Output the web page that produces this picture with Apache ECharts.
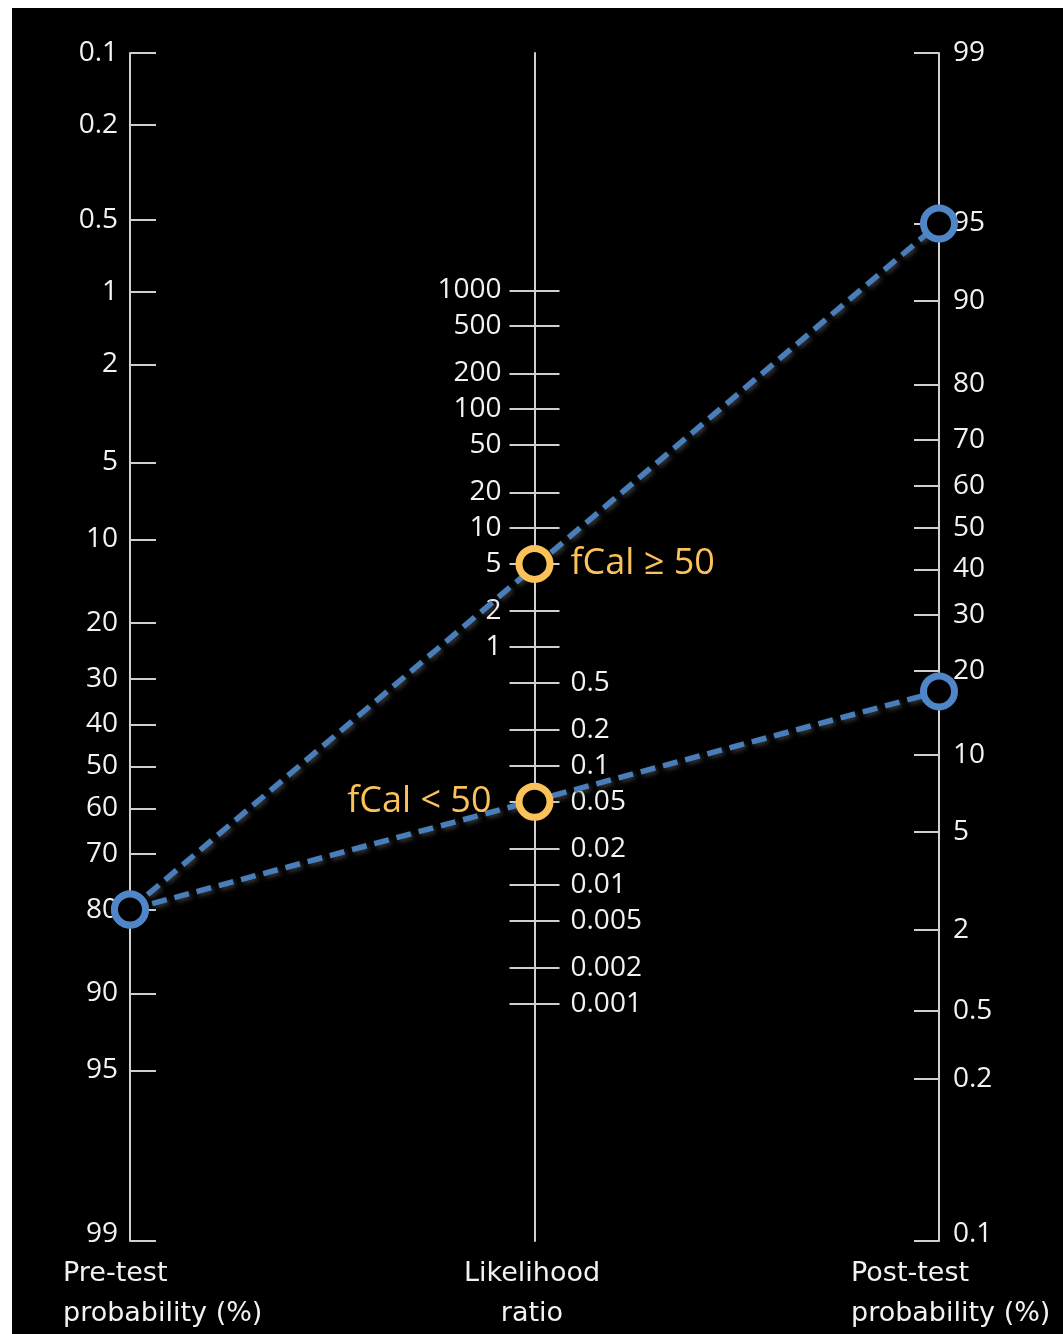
<!DOCTYPE html>
<html>
<head>
<meta charset="utf-8">
<script src="https://cdn.jsdelivr.net/npm/echarts@6/dist/echarts.min.js"></script>
<style>
html,body{margin:0;padding:0;background:#fff;width:1063px;height:1334px;overflow:hidden}
#chart{position:absolute;left:12px;top:8px;width:1051px;height:1326px;background:#000}
</style>
</head>
<body>
<div id="chart"></div>
<script>
// ---- data ----
const preTicks = [0.1, 0.2, 0.5, 1, 2, 5, 10, 20, 30, 40, 50, 60, 70, 80, 90, 95, 99];
const preTickLabels = ['0.1', '0.2', '0.5', '1', '2', '5', '10', '20', '30', '40', '50', '60', '70', '80', '90', '95', '99'];

const lrTicks = [1000, 500, 200, 100, 50, 20, 10, 5, 2, 1, 0.5, 0.2, 0.1, 0.05, 0.02, 0.01, 0.005, 0.002, 0.001];
const lrTickLabels = ['1000', '500', '200', '100', '50', '20', '10', '5', '2', '1', '0.5', '0.2', '0.1', '0.05', '0.02', '0.01', '0.005', '0.002', '0.001'];

const postTicks = [99, 95, 90, 80, 70, 60, 50, 40, 30, 20, 10, 5, 2, 0.92, 0.48, 0.1];
const postTickLabels = ['99', '95', '90', '80', '70', '60', '50', '40', '30', '20', '10', '5', '2', '0.5', '0.2', '0.1'];

const groups = ['fCal \u2265 50', 'fCal < 50'];
const preTest = [80, 80];
const likelihoodRatio = [5, 0.05];
const postTest = [95, 17];

const axisNames = ['Pre-test\nprobability (%)', 'Likelihood\nratio', 'Post-test\nprobability (%)'];

// ---- styling ----
const FONT = "'Open Sans', 'Noto Sans', sans-serif";
const NAME_FONT = "'DejaVu Sans', sans-serif";
const AXIS_COLOR = '#cfcfcf';
const TEXT_COLOR = '#f2f2f2';
const BLUE = '#4a7ebb';
const RING_BLUE = '#4f86c8';
const ORANGE = '#fcc25a';

const logit = p => Math.log(p / (100 - p));
const LMIN = logit(0.1), LMAX = logit(99);
const LR_EXT = (LMAX - LMIN) / Math.LN10;
const log10 = v => Math.log10(v);

function pick(ticks, fn, v) {
  let best = 0, bd = Infinity;
  ticks.forEach((t, i) => { const d = Math.abs(fn(t) - v); if (d < bd) { bd = d; best = i; } });
  return best;
}

const GRID = { left: 118, right: 124, top: 45, bottom: 93 };
const chartW = 1051;
const midOffset = -(chartW - GRID.left - GRID.right) / 2;

const labelBase = { color: TEXT_COLOR, fontSize: 28, fontFamily: FONT };
const lowRich = { low: Object.assign({ padding: [0, 0, 14, 0] }, labelBase) };

const chart = echarts.init(document.getElementById('chart'), null, { renderer: 'canvas' });

const option = {
  backgroundColor: '#000',
  animation: false,
  grid: Object.assign({ containLabel: false }, GRID),
  xAxis: { type: 'value', min: 0, max: 1, show: false },
  yAxis: [
    { // pre-test probability
      type: 'value', position: 'left', min: LMIN, max: LMAX, inverse: true,
      axisLine: { show: true, onZero: false, lineStyle: { color: AXIS_COLOR, width: 2 } },
      axisTick: { show: true, inside: true, length: 26, customValues: preTicks.map(logit), lineStyle: { color: AXIS_COLOR, width: 2 } },
      axisLabel: Object.assign({
        show: true, margin: 12, customValues: preTicks.map(logit), rich: lowRich,
        formatter: v => {
          const i = pick(preTicks, logit, v);
          return i === preTicks.length - 1 ? '{low|' + preTickLabels[i] + '}' : preTickLabels[i];
        }
      }, labelBase),
      splitLine: { show: false }
    },
    { // likelihood ratio, left half
      type: 'value', position: 'left', offset: midOffset, min: -LR_EXT, max: LR_EXT,
      axisLine: { show: true, onZero: false, lineStyle: { color: AXIS_COLOR, width: 2 } },
      axisTick: { show: true, inside: false, length: 25, customValues: lrTicks.map(log10), lineStyle: { color: AXIS_COLOR, width: 2 } },
      axisLabel: Object.assign({
        show: true, margin: 33, customValues: lrTicks.filter(v => v >= 1).map(log10),
        formatter: v => lrTickLabels[pick(lrTicks, log10, v)]
      }, labelBase),
      splitLine: { show: false }
    },
    { // likelihood ratio, right half
      type: 'value', position: 'left', offset: midOffset, min: -LR_EXT, max: LR_EXT,
      axisLine: { show: false, onZero: false },
      axisTick: { show: true, inside: true, length: 25, customValues: lrTicks.map(log10), lineStyle: { color: AXIS_COLOR, width: 2 } },
      axisLabel: Object.assign({
        show: true, inside: true, margin: 36, customValues: lrTicks.filter(v => v < 1).map(log10),
        formatter: v => lrTickLabels[pick(lrTicks, log10, v)]
      }, labelBase),
      splitLine: { show: false }
    },
    { // post-test probability
      type: 'value', position: 'right', min: LMIN, max: LMAX,
      axisLine: { show: true, onZero: false, lineStyle: { color: AXIS_COLOR, width: 2 } },
      axisTick: { show: true, inside: true, length: 25, customValues: postTicks.map(logit), lineStyle: { color: AXIS_COLOR, width: 2 } },
      axisLabel: Object.assign({
        show: true, margin: 14, customValues: postTicks.map(logit), rich: lowRich,
        formatter: v => {
          const i = pick(postTicks, logit, v);
          return i === postTicks.length - 1 ? '{low|' + postTickLabels[i] + '}' : postTickLabels[i];
        }
      }, labelBase),
      splitLine: { show: false }
    }
  ],
  graphic: [
    { type: 'text', x: 51, y: 1286, silent: true,
      style: { text: axisNames[0], fill: TEXT_COLOR, font: '27px ' + NAME_FONT, lineHeight: 40, align: 'left', verticalAlign: 'middle' } },
    { type: 'text', x: 520, y: 1286, silent: true,
      style: { text: axisNames[1], fill: TEXT_COLOR, font: '27px ' + NAME_FONT, lineHeight: 40, align: 'center', verticalAlign: 'middle' } },
    { type: 'text', x: 839, y: 1286, silent: true,
      style: { text: axisNames[2], fill: TEXT_COLOR, font: '27px ' + NAME_FONT, lineHeight: 40, align: 'left', verticalAlign: 'middle' } }
  ],
  series: []
};

// dashed connecting lines (expressed in the pre-test axis units)
groups.forEach((g, i) => {
  option.series.push({
    type: 'line', name: g + ' line', xAxisIndex: 0, yAxisIndex: 0, z: 2,
    symbol: 'none', silent: true,
    data: [[0, logit(preTest[i])], [1, LMIN + LMAX - logit(postTest[i])]],
    lineStyle: { color: BLUE, width: 5.5, type: [15, 8], opacity: 1, shadowColor: 'rgba(110,110,110,0.55)', shadowBlur: 5, shadowOffsetX: 2, shadowOffsetY: 2 }
  });
});

const ring = (c) => ({ color: '#000', borderColor: c, borderWidth: 7, opacity: 1 });

option.series.push({
  type: 'scatter', name: 'pre', xAxisIndex: 0, yAxisIndex: 0, z: 4,
  symbol: 'circle', symbolSize: 31, itemStyle: ring(RING_BLUE),
  data: preTest.map(p => [0, logit(p)])
});
option.series.push({
  type: 'scatter', name: 'post', xAxisIndex: 0, yAxisIndex: 3, z: 4,
  symbol: 'circle', symbolSize: 31, itemStyle: ring(RING_BLUE),
  data: postTest.map(p => [1, logit(p)])
});
option.series.push({
  type: 'scatter', name: 'lr', xAxisIndex: 0, yAxisIndex: 1, z: 5,
  symbol: 'circle', symbolSize: 31, itemStyle: ring(ORANGE),
  data: likelihoodRatio.map((v, i) => ({
    value: [0.5, log10(v)],
    label: {
      show: true, formatter: groups[i],
      position: v >= 1 ? 'right' : 'left',
      distance: v >= 1 ? 17 : 24,
      color: ORANGE, fontSize: 36, fontFamily: FONT
    }
  }))
});

chart.setOption(option);
</script>
</body>
</html>
